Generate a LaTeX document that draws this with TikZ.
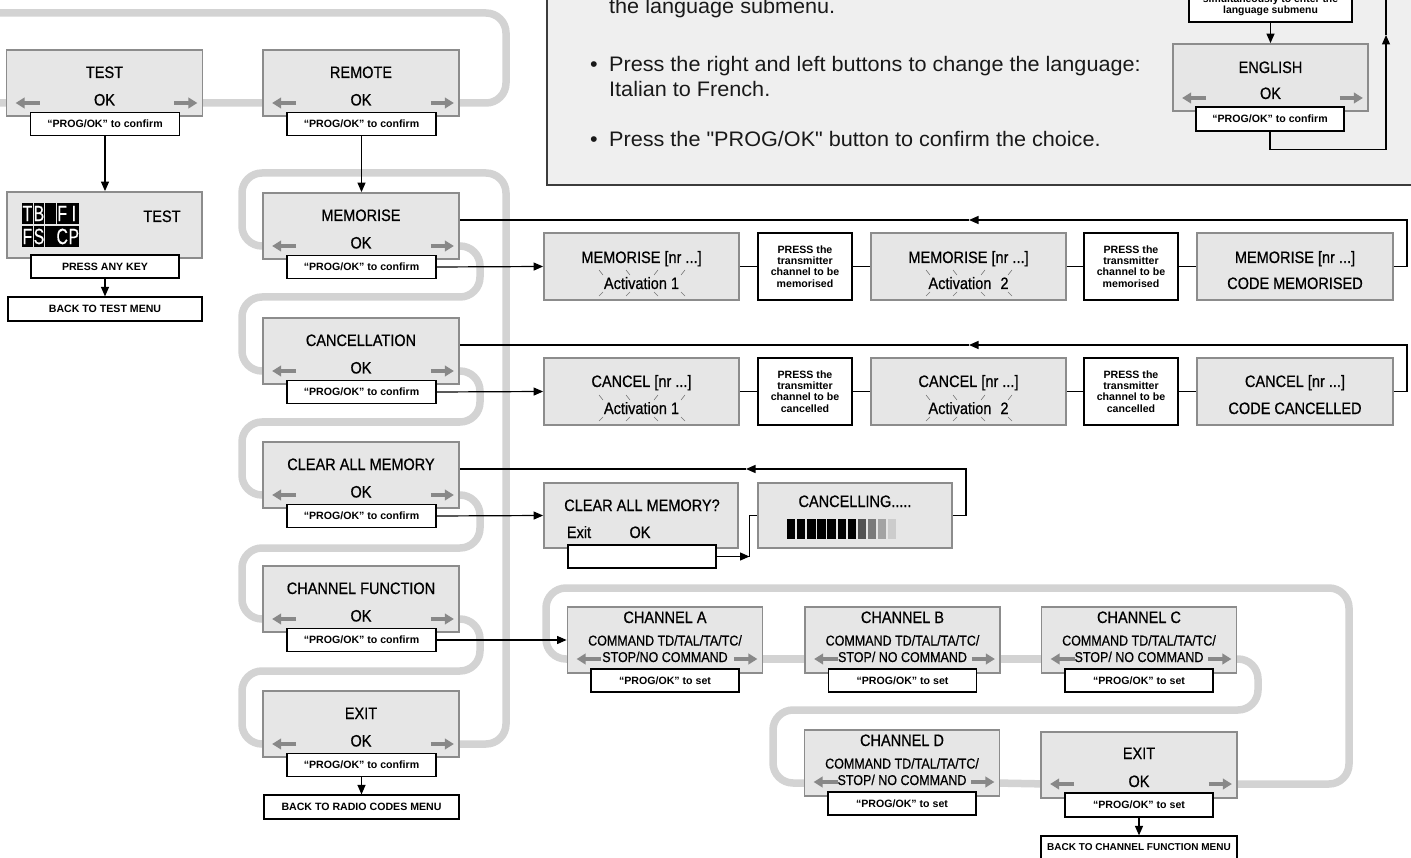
\documentclass[tikz,border=0pt]{standalone}
\usepackage{fontspec}
\setmainfont{Liberation Sans}[FakeStretch=0.88,FakeBold=0.6]
\newfontfamily\lblfont{Liberation Sans}
\newfontfamily\panelfont{Liberation Sans}[FakeStretch=1.03]
\newfontfamily\cellfont{Liberation Sans}[FakeStretch=0.72,FakeBold=0.4]
\usetikzlibrary{arrows.meta}

\definecolor{bandgray}{HTML}{D3D3D3}
\definecolor{boxfill}{HTML}{E6E6E6}
\definecolor{boxline}{HTML}{8C8C8C}
\definecolor{navgray}{HTML}{888888}
\definecolor{panelfill}{HTML}{EFEFEF}
\definecolor{panelline}{HTML}{3C3C3C}
\definecolor{sparkgray}{HTML}{777777}

\tikzset{
  band/.style={draw=bandgray, line width=7.5pt, rounded corners=20pt},
  screen/.style={draw=boxline, fill=boxfill, line width=1.8pt, inner sep=0pt},
  tag/.style={draw=black, fill=white, line width=1.2pt, inner sep=0pt,
    font=\lblfont\bfseries\fontsize{10.6}{11.4}\selectfont},
  pressbox/.style={tag, align=center, minimum width=94pt, minimum height=67pt},
  lbltxt/.style={inner sep=0pt, anchor=base, font=\lblfont\bfseries\fontsize{10.4}{11.4}\selectfont},
  ttl/.style={anchor=base, inner sep=0pt, font=\fontsize{16.5}{18}\selectfont},
  cmd/.style={anchor=base, inner sep=0pt, font=\fontsize{14.2}{16}\selectfont},
  ptxt/.style={anchor=base west, inner sep=0pt, text=black!90,
    font=\panelfont\fontsize{21}{24}\selectfont},
  nav/.style={draw=navgray, line width=4.5pt, -{Triangle[length=9pt,width=10.5pt]}},
  conn/.style={draw=black, line width=1.2pt},
  tip/.style={-{Triangle[length=9.5pt,width=8pt]}},
  spark/.style={draw=sparkgray, line width=0.6pt},
  cellbox/.style={fill=black, text=white, minimum width=10.8pt, minimum height=21pt,
    inner sep=0pt, font=\cellfont\fontsize{22}{22}\selectfont},
  panel/.style={fill=panelfill, draw=panelline, line width=2.2pt},
}

% grey navigation arrows inside a screen: #1 node, #2 drop below its centre
\newcommand\navarrows[2]{%
  \draw[nav] ([shift={(34pt,-#2)}]#1.west) -- ([shift={(10pt,-#2)}]#1.west);
  \draw[nav] ([shift={(-29pt,-#2)}]#1.east) -- ([shift={(-6pt,-#2)}]#1.east);}

% menu screen with title, OK and confirm tag: name, centre x, top y, title, tag text
\newcommand\menubox[5]{%
  \node[screen, minimum width=196pt, minimum height=66pt] (#1) at (#2,#3+33) {};
  \node[tag, minimum width=149pt, minimum height=23.5pt] (#1l) at (#2+0.5,#3+74) {#5};
  \node[ttl] (#1t) at (#2,#3+28) {#4};
  \node[ttl] (#1ok) at (#2,#3+55.5) {OK};
  \navarrows{#1}{20pt}}

% channel screen: name, centre x, top y, title, last line
\newcommand\chanbox[5]{%
  \node[screen, minimum width=195pt, minimum height=66pt] (#1) at (#2,#3+33) {};
  \node[tag, minimum width=148pt, minimum height=23pt] (#1l) at (#2,#3+73.5) {“PROG/OK” to set};
  \node[ttl] (#1t) at (#2,#3+16) {#4};
  \node[cmd] (#1c) at (#2,#3+38.5) {COMMAND TD/TAL/TA/TC/};
  \node[cmd] (#1s) at (#2,#3+55) {#5};
  \navarrows{#1}{19pt}}

% blinking marks around an activation text: centre x, baseline y
\newcommand\sparkle[2]{%
  \foreach \dx/\s in {-40.5/1,-13.5/1,14.5/-1,41.5/-1} {
    \draw[spark] ({#1+\dx-2*\s},{#2-19}) -- ({#1+\dx+2*\s},{#2-14});
    \draw[spark] ({#1+\dx-2*\s},{#2+7}) -- ({#1+\dx+2*\s},{#2+3});
  }}

\begin{document}
\begin{tikzpicture}[x=1pt,y=-1pt]
\useasboundingbox (0,0) rectangle (1411,858);
\fill[white] (0,0) rectangle (1411,858);

% ---------- help panel (language submenu) ----------
\draw[panel] (547,-20) rectangle (1440,185);
\node[ptxt] (p1) at (609,14) {the language submenu.};
\node[ptxt, anchor=base] (p2b) at (594,72) {•};
\node[ptxt] (p2) at (609,72) {Press the right and left buttons to change the language:};
\node[ptxt] (p3) at (609,97) {Italian to French.};
\node[ptxt, anchor=base] (p4b) at (594,147) {•};
\node[ptxt] (p4) at (609,147) {Press the "PROG/OK" button to confirm the choice.};

\node[tag, minimum width=163pt, minimum height=50pt] (lgtop) at (1270.5,-3) {};
\node[lbltxt] (lgt1) at (1270.5,2.5) {simultaneously to enter the};
\node[lbltxt] (lgt2) at (1270.5,14) {language submenu};
\node[screen, minimum width=195pt, minimum height=67pt] (eng) at (1270.5,77.5) {};
\node[ttl] (engt) at (1270.5,73) {ENGLISH};
\node[ttl] (engok) at (1270.5,99) {OK};
\navarrows{eng}{20.5pt}
\node[tag, minimum width=148pt, minimum height=24pt] (engl) at (1270,119) {“PROG/OK” to confirm};
\draw[conn,tip] (lgtop.south) -- (eng.north);
\coordinate (lgret) at (1386,35);
\coordinate (lgend) at (1386,-10);
\draw[conn,tip] (engl.south) -- ++(0,18) -| (lgret);
\draw[conn] (lgret) -- (lgend);

% ---------- grey scrolling loops ----------
\draw[band] (-10,13) -- (506,13) -- (506,103) -- (-10,103);
\draw[band] (270,246) -- (242,246) -- (242,173) -- (506,173) -- (506,744) -- (440,744);
\draw[band] (450,246) -- (480,246) -- (480,297) -- (242,297) -- (242,371) -- (270,371);
\draw[band] (450,371) -- (480,371) -- (480,422) -- (242,422) -- (242,495) -- (270,495);
\draw[band] (450,495) -- (480,495) -- (480,548) -- (242,548) -- (242,619) -- (270,619);
\draw[band] (450,619) -- (480,619) -- (480,671) -- (242,671) -- (242,744) -- (270,744);
\draw[band] (575,659) -- (546,659) -- (546,588) -- (1349,588) -- (1349,784) -- (1230,784);
\draw[band] (755,659) -- (812,659);
\draw[band] (995,659) -- (1048,659);
\draw[band] (1230,659) -- (1258,659) -- (1258,710) -- (773,710) -- (773,783) -- (812,783);
\draw[band] (995,783) -- (1048,784);

% ---------- test menu ----------
\menubox{test}{104.5}{50}{TEST}{“PROG/OK” to confirm}
\node[screen, minimum width=195pt, minimum height=66pt] (tscr) at (104.5,225) {};
\foreach \ch [count=\i] in {T,B,{},F,I}
  \node[cellbox] (ca\i) at ({15.8+11.6*\i},213.5) {\ch};
\foreach \ch [count=\i] in {F,S,{},C,P}
  \node[cellbox] (cb\i) at ({15.8+11.6*\i},236.5) {\ch};
\node[ttl] (tscrt) at (162,222) {TEST};
\node[tag, minimum width=148pt, minimum height=23pt] (tscrl) at (105,266.5) {PRESS ANY KEY};
\node[tag, minimum width=194pt, minimum height=24pt] (tback) at (105,309) {BACK TO TEST MENU};
\draw[conn,tip] (testl.south) -- (testl.south |- tscr.north);
\draw[conn,tip] (tscrl.south) -- (tscrl.south |- tback.north);

% ---------- radio codes menu ----------
\menubox{remote}{361}{50}{REMOTE}{“PROG/OK” to confirm}
\menubox{mem}{361}{193}{MEMORISE}{“PROG/OK” to confirm}
\menubox{canc}{361}{318}{CANCELLATION}{“PROG/OK” to confirm}
\menubox{clr}{361}{442}{CLEAR ALL MEMORY}{“PROG/OK” to confirm}
\menubox{chf}{361}{566}{CHANNEL FUNCTION}{“PROG/OK” to confirm}
\menubox{rexit}{361}{691}{EXIT}{“PROG/OK” to confirm}
\node[tag, minimum width=195pt, minimum height=24pt] (rback) at (361.5,807) {BACK TO RADIO CODES MENU};
\draw[conn,tip] (remotel.south) -- (remotel.south |- mem.north);
\draw[conn,tip] (rexitl.south) -- (rexitl.south |- rback.north);

% ---------- memorise sequence ----------
\node[screen, minimum width=195pt, minimum height=67pt] (m1) at (641.5,266.5) {};
\node[ttl] (m1a) at (641.5,263) {MEMORISE [nr ...]};
\node[ttl] (m1b) at (641.5,289) {Activation 1};
\sparkle{641.5}{289}
\node[pressbox] (mp1) at (805,266.5) {PRESS the\\transmitter\\channel to be\\memorised};
\node[screen, minimum width=195pt, minimum height=67pt] (m2) at (968.5,266.5) {};
\node[ttl] (m2a) at (968.5,263) {MEMORISE [nr ...]};
\node[ttl] (m2b) at (968.5,289) {Activation\hspace{5pt} 2};
\sparkle{968.5}{289}
\node[pressbox] (mp2) at (1131,266.5) {PRESS the\\transmitter\\channel to be\\memorised};
\node[screen, minimum width=196pt, minimum height=67pt] (m3) at (1295,266.5) {};
\node[ttl] (m3a) at (1295,263) {MEMORISE [nr ...]};
\node[ttl] (m3b) at (1295,289) {CODE MEMORISED};
\draw[conn,tip] (meml.east) -- (m1.west);
\draw[conn] (m1) -- (mp1);
\draw[conn] (mp1) -- (m2);
\draw[conn] (m2) -- (mp2);
\draw[conn] (mp2) -- (m3);
\coordinate (mfb) at (969,220);
\draw[conn,tip] (m3.east) -- ++(13,0) |- (mfb);
\draw[conn] (mfb) -- (mfb -| mem.east);

% ---------- cancel sequence ----------
\node[screen, minimum width=195pt, minimum height=67pt] (c1) at (641.5,391.5) {};
\node[ttl] (c1a) at (641.5,387) {CANCEL [nr ...]};
\node[ttl] (c1b) at (641.5,414) {Activation 1};
\sparkle{641.5}{414}
\node[pressbox] (cp1) at (805,391.5) {PRESS the\\transmitter\\channel to be\\cancelled};
\node[screen, minimum width=195pt, minimum height=67pt] (c2) at (968.5,391.5) {};
\node[ttl] (c2a) at (968.5,387) {CANCEL [nr ...]};
\node[ttl] (c2b) at (968.5,414) {Activation\hspace{5pt} 2};
\sparkle{968.5}{414}
\node[pressbox] (cp2) at (1131,391.5) {PRESS the\\transmitter\\channel to be\\cancelled};
\node[screen, minimum width=196pt, minimum height=67pt] (c3) at (1295,391.5) {};
\node[ttl] (c3a) at (1295,387) {CANCEL [nr ...]};
\node[ttl] (c3b) at (1295,414) {CODE CANCELLED};
\draw[conn,tip] (cancl.east) -- (c1.west);
\draw[conn] (c1) -- (cp1);
\draw[conn] (cp1) -- (c2);
\draw[conn] (c2) -- (cp2);
\draw[conn] (cp2) -- (c3);
\coordinate (cfb) at (969,345);
\draw[conn,tip] (c3.east) -- ++(13,0) |- (cfb);
\draw[conn] (cfb) -- (cfb -| canc.east);

% ---------- clear all memory ----------
\node[screen, minimum width=194pt, minimum height=65pt] (q1) at (641,515.5) {};
\node[ttl] (q1t) at (642,511) {CLEAR ALL MEMORY?};
\node[ttl] (q1x) at (579,538) {Exit};
\node[ttl] (q1ok) at (640,538) {OK};
\node[tag, minimum width=148pt, minimum height=23pt] (qw) at (642,556.5) {};
\node[screen, minimum width=194pt, minimum height=65pt] (q2) at (855,515.5) {};
\node[ttl] (q2t) at (855,507) {CANCELLING.....};
\foreach \shade [count=\i] in {black,black,black,black,black,black,black,black!68,black!52,black!36,black!20}
  \fill[\shade] ({776.9+10.1*\i},519) rectangle ++(8.3,20);
\draw[conn,tip] (clrl.east) -- (q1.west);
\coordinate (qa) at (749.5,556.5);
\draw[conn,tip] (qw.east) -- (qa);
\draw[conn] (qa) |- (q2.west);
\coordinate (qfb) at (746,469);
\draw[conn,tip] (q2.east) -- ++(13,0) |- (qfb);
\draw[conn] (qfb) -- (qfb -| clr.east);

% ---------- channel function ----------
\chanbox{cha}{665}{607}{CHANNEL A}{STOP/NO COMMAND}
\chanbox{chb}{902.5}{607}{CHANNEL B}{STOP/ NO COMMAND}
\chanbox{chc}{1139}{607}{CHANNEL C}{STOP/ NO COMMAND}
\chanbox{chd}{902}{730}{CHANNEL D}{STOP/ NO COMMAND}
\node[screen, minimum width=196pt, minimum height=66pt] (che) at (1139,765) {};
\node[ttl] (chet) at (1139,759) {EXIT};
\node[ttl] (cheok) at (1139,787) {OK};
\navarrows{che}{19pt}
\node[tag, minimum width=148pt, minimum height=24pt] (chel) at (1139,805) {“PROG/OK” to set};
\node[tag, minimum width=196pt, minimum height=23pt,
  font=\lblfont\bfseries\fontsize{10}{11}\selectfont] (cback) at (1139,847.5) {BACK TO CHANNEL FUNCTION MENU};
\draw[conn,tip] (chfl.east) -- (cha.west);
\draw[conn,tip] (chel.south) -- (chel.south |- cback.north);
\end{tikzpicture}
\end{document}
